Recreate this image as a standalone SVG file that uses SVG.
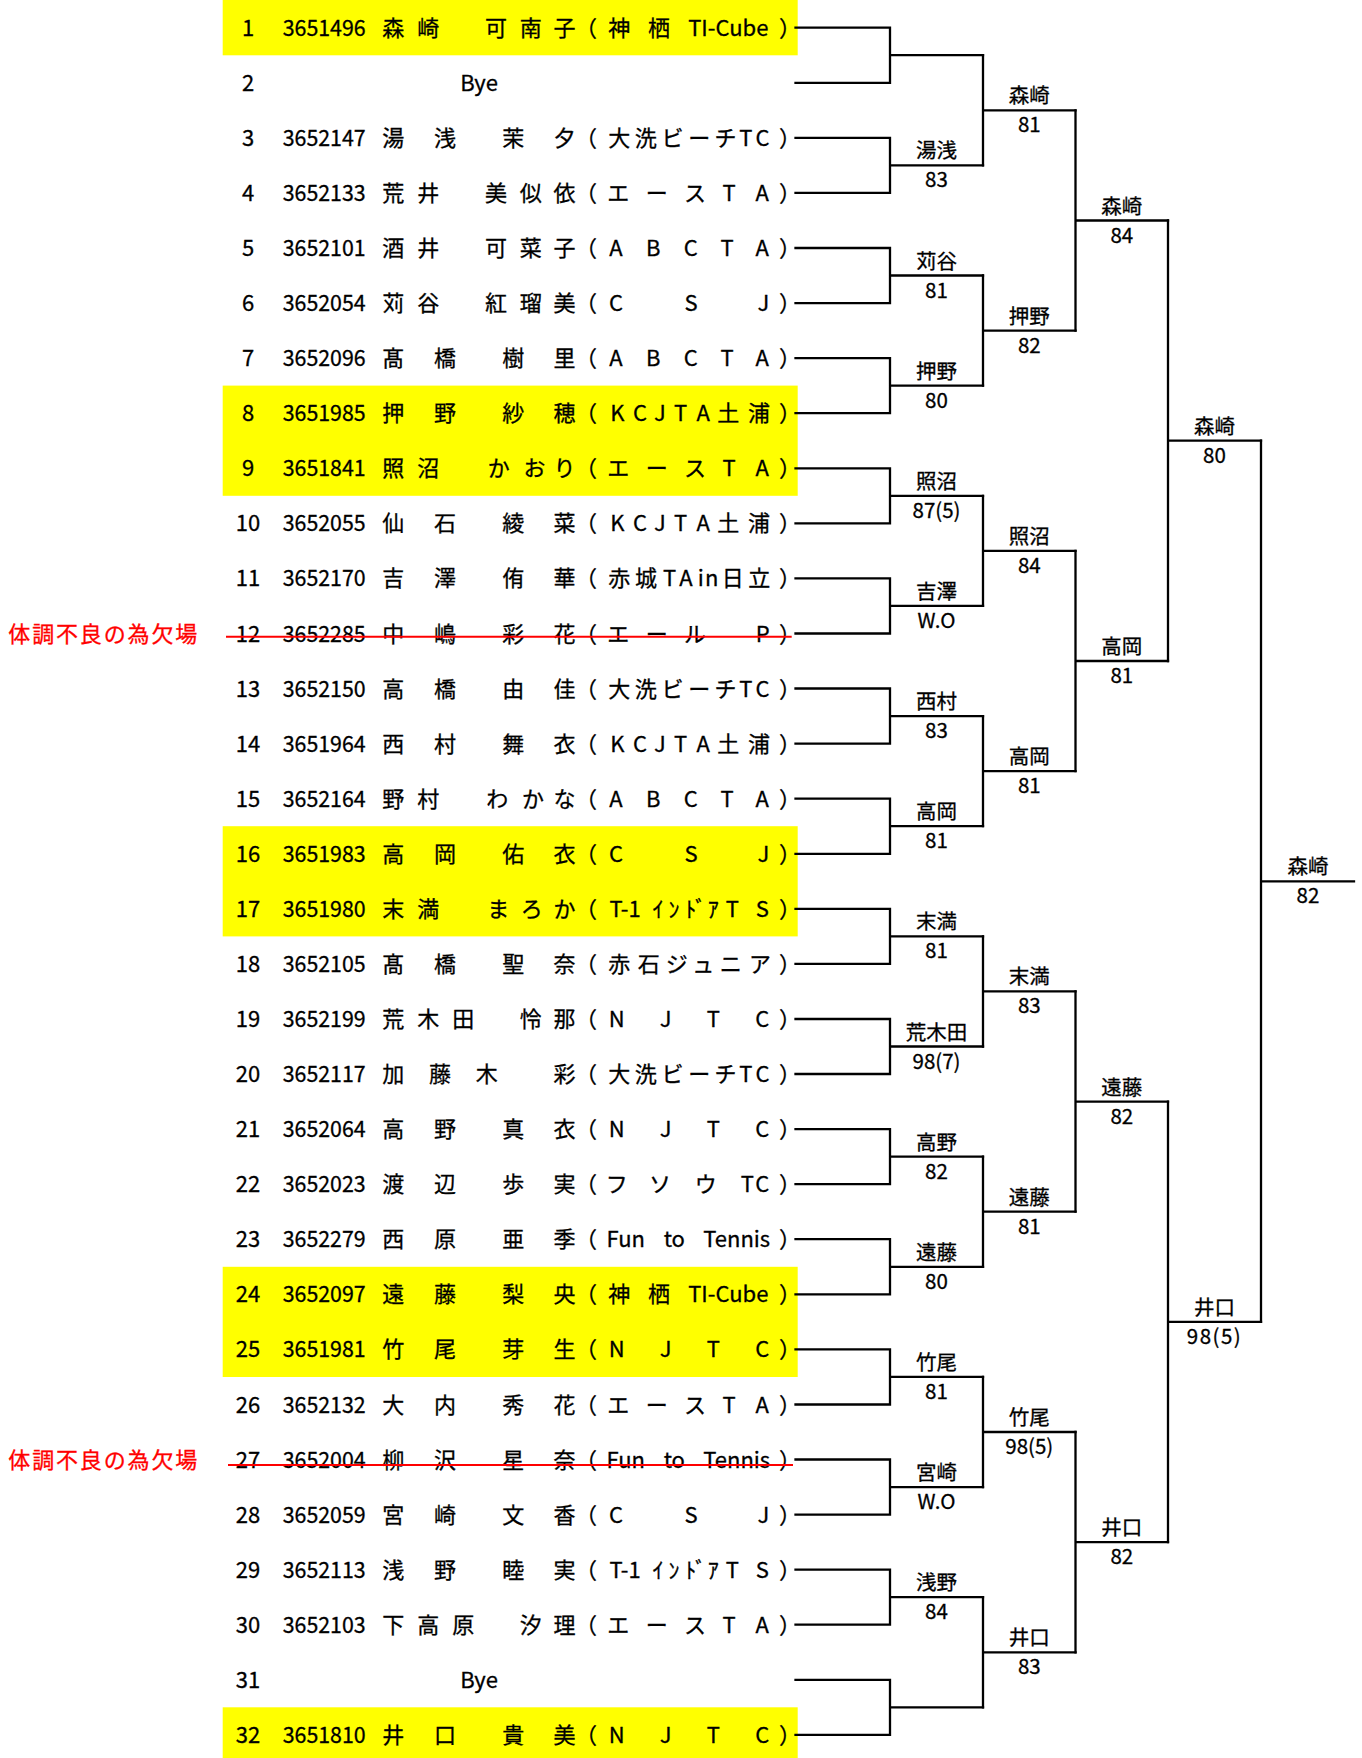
<svg xmlns="http://www.w3.org/2000/svg" width="1362" height="1758" viewBox="0 0 1362 1758">
<style>
.t{font-family:"Noto Sans CJK JP","Noto Sans CJK SC",sans-serif;font-size:22px;fill:#000;stroke:#000;stroke-width:0.3;text-anchor:middle}
.l{font-family:"Noto Sans CJK JP","Noto Sans CJK SC",sans-serif;font-size:20.5px;fill:#000;stroke:#000;stroke-width:0.3;text-anchor:middle}
.r{fill:#f00;stroke:#f00}
.hl{fill:#ff0}
.ln{fill:none;stroke:#000;stroke-width:2.3;stroke-linecap:square}
.st{fill:none;stroke:#f00;stroke-width:2}
</style>
<rect width="1362" height="1758" fill="#fff"/>
<g id="highlights">
<rect class="hl" x="222.7" y="0" width="575" height="55.3"/>
<rect class="hl" x="222.7" y="385.6" width="575" height="110.2"/>
<rect class="hl" x="222.7" y="826.2" width="575" height="110.2"/>
<rect class="hl" x="222.7" y="1266.8" width="575" height="110.2"/>
<rect class="hl" x="222.7" y="1707.3" width="575" height="50.7"/>
</g>
<g id="connectors">
<path class="ln" d="M795.5 27.7H890V82.8H795.5M890 55.2H983M795.5 137.8H890V192.9H795.5M890 165.4H983M795.5 248H890V303.1H795.5M890 275.5H983M795.5 358.1H890V413.2H795.5M890 385.7H983M795.5 468.3H890V523.3H795.5M890 495.8H983M795.5 578.4H890V633.5H795.5M890 605.9H983M795.5 688.5H890V743.6H795.5M890 716.1H983M795.5 798.7H890V853.8H795.5M890 826.2H983M795.5 908.8H890V963.9H795.5M890 936.4H983M795.5 1019H890V1074H795.5M890 1046.5H983M795.5 1129.1H890V1184.2H795.5M890 1156.6H983M795.5 1239.2H890V1294.3H795.5M890 1266.8H983M795.5 1349.4H890V1404.5H795.5M890 1376.9H983M795.5 1459.5H890V1514.6H795.5M890 1487.1H983M795.5 1569.7H890V1624.7H795.5M890 1597.2H983M795.5 1679.8H890V1734.9H795.5M890 1707.3H983"/>
<path class="ln" d="M983 55.2V165.4M983 110.3H1075.5M983 275.5V385.7M983 330.6H1075.5M983 495.8V605.9M983 550.9H1075.5M983 716.1V826.2M983 771.1H1075.5M983 936.4V1046.5M983 991.4H1075.5M983 1156.6V1266.8M983 1211.7H1075.5M983 1376.9V1487.1M983 1432H1075.5M983 1597.2V1707.3M983 1652.3H1075.5"/>
<path class="ln" d="M1075.5 110.3V330.6M1075.5 220.5H1168M1075.5 550.9V771.1M1075.5 661H1168M1075.5 991.4V1211.7M1075.5 1101.6H1168M1075.5 1432V1652.3M1075.5 1542.1H1168"/>
<path class="ln" d="M1168 220.5V661M1168 440.7H1261M1168 1101.6V1542.1M1168 1321.8H1261"/>
<path class="ln" d="M1261 440.7V1321.8M1261 881.3H1354"/>
</g>
<g id="p1"><text class="t" x="248" y="35.7">1</text><text class="t" x="324.2" y="35.7" textLength="83" lengthAdjust="spacingAndGlyphs">3651496</text><text class="t" x="393.3 428.3 496 530.7 564.5" y="35.7">森崎可南子</text><text class="t" y="35.7"><tspan x="586">（</tspan><tspan x="619.2 659">神栖</tspan><tspan x="728.3">TI-Cube</tspan><tspan x="790">）</tspan></text></g>
<g id="p2"><text class="t" x="248" y="90.8">2</text><text class="t" x="479" y="90.8">Bye</text></g>
<g id="p3"><text class="t" x="248" y="145.8">3</text><text class="t" x="324.2" y="145.8" textLength="83" lengthAdjust="spacingAndGlyphs">3652147</text><text class="t" x="393.3 445 513.3 564.5" y="145.8">湯浅茉夕</text><text class="t" y="145.8"><tspan x="586">（</tspan><tspan x="619.2 645.8 672.5 699.2 725.5 745.8 762.5">大洗ビーチTC</tspan><tspan x="790">）</tspan></text></g>
<g id="p4"><text class="t" x="248" y="200.9">4</text><text class="t" x="324.2" y="200.9" textLength="83" lengthAdjust="spacingAndGlyphs">3652133</text><text class="t" x="393.3 428.3 496 530.7 564.5" y="200.9">荒井美似依</text><text class="t" y="200.9"><tspan x="586">（</tspan><tspan x="618.3 656.7 695 729 762.3">エースTA</tspan><tspan x="790">）</tspan></text></g>
<g id="p5"><text class="t" x="248" y="256">5</text><text class="t" x="324.2" y="256" textLength="83" lengthAdjust="spacingAndGlyphs">3652101</text><text class="t" x="393.3 428.3 496 530.7 564.5" y="256">酒井可菜子</text><text class="t" y="256"><tspan x="586">（</tspan><tspan x="616 653.3 690.7 727 762.3">ABCTA</tspan><tspan x="790">）</tspan></text></g>
<g id="p6"><text class="t" x="248" y="311.1">6</text><text class="t" x="324.2" y="311.1" textLength="83" lengthAdjust="spacingAndGlyphs">3652054</text><text class="t" x="393.3 428.3 496 530.7 564.5" y="311.1">苅谷紅瑠美</text><text class="t" y="311.1"><tspan x="586">（</tspan><tspan x="616 691 763.3">CSJ</tspan><tspan x="790">）</tspan></text></g>
<g id="p7"><text class="t" x="248" y="366.1">7</text><text class="t" x="324.2" y="366.1" textLength="83" lengthAdjust="spacingAndGlyphs">3652096</text><text class="t" x="393.3 445 513.3 564.5" y="366.1">髙橋樹里</text><text class="t" y="366.1"><tspan x="586">（</tspan><tspan x="616 653.3 690.7 727 762.3">ABCTA</tspan><tspan x="790">）</tspan></text></g>
<g id="p8"><text class="t" x="248" y="421.2">8</text><text class="t" x="324.2" y="421.2" textLength="83" lengthAdjust="spacingAndGlyphs">3651985</text><text class="t" x="393.3 445 513.3 564.5" y="421.2">押野紗穂</text><text class="t" y="421.2"><tspan x="586">（</tspan><tspan x="617.3 640 660 680.7 703.3 728.3 759">KCJTA土浦</tspan><tspan x="790">）</tspan></text></g>
<g id="p9"><text class="t" x="248" y="476.3">9</text><text class="t" x="324.2" y="476.3" textLength="83" lengthAdjust="spacingAndGlyphs">3651841</text><text class="t" x="393.3 428.3 498.7 534.5 564.5" y="476.3">照沼かおり</text><text class="t" y="476.3"><tspan x="586">（</tspan><tspan x="618.3 656.7 695 729 762.3">エースTA</tspan><tspan x="790">）</tspan></text></g>
<g id="p10"><text class="t" x="248" y="531.3">10</text><text class="t" x="324.2" y="531.3" textLength="83" lengthAdjust="spacingAndGlyphs">3652055</text><text class="t" x="393.3 445 513.3 564.5" y="531.3">仙石綾菜</text><text class="t" y="531.3"><tspan x="586">（</tspan><tspan x="617.3 640 660 680.7 703.3 728.3 759">KCJTA土浦</tspan><tspan x="790">）</tspan></text></g>
<g id="p11"><text class="t" x="248" y="586.4">11</text><text class="t" x="324.2" y="586.4" textLength="83" lengthAdjust="spacingAndGlyphs">3652170</text><text class="t" x="393.3 445 513.3 564.5" y="586.4">吉澤侑華</text><text class="t" y="586.4"><tspan x="586">（</tspan><tspan x="619.2 646 669.7 686 700.7 711.7 732.7 759.3">赤城TAin日立</tspan><tspan x="790">）</tspan></text></g>
<g id="p12"><text class="t r" x="102.8" y="642.3" textLength="189" lengthAdjust="spacing">体調不良の為欠場</text><text class="t" x="248" y="641.5">12</text><text class="t" x="324.2" y="641.5" textLength="83" lengthAdjust="spacingAndGlyphs">3652285</text><text class="t" x="393.3 445 513.3 564.5" y="641.5">中嶋彩花</text><text class="t" y="641.5"><tspan x="586">（</tspan><tspan x="618.3 656.7 695 762.7">エールP</tspan><tspan x="790">）</tspan></text><path class="st" d="M226 636.7H791.7"/></g>
<g id="p13"><text class="t" x="248" y="696.5">13</text><text class="t" x="324.2" y="696.5" textLength="83" lengthAdjust="spacingAndGlyphs">3652150</text><text class="t" x="393.3 445 513.3 564.5" y="696.5">高橋由佳</text><text class="t" y="696.5"><tspan x="586">（</tspan><tspan x="619.2 645.8 672.5 699.2 725.5 745.8 762.5">大洗ビーチTC</tspan><tspan x="790">）</tspan></text></g>
<g id="p14"><text class="t" x="248" y="751.6">14</text><text class="t" x="324.2" y="751.6" textLength="83" lengthAdjust="spacingAndGlyphs">3651964</text><text class="t" x="393.3 445 513.3 564.5" y="751.6">西村舞衣</text><text class="t" y="751.6"><tspan x="586">（</tspan><tspan x="617.3 640 660 680.7 703.3 728.3 759">KCJTA土浦</tspan><tspan x="790">）</tspan></text></g>
<g id="p15"><text class="t" x="248" y="806.7">15</text><text class="t" x="324.2" y="806.7" textLength="83" lengthAdjust="spacingAndGlyphs">3652164</text><text class="t" x="393.3 428.3 497.3 533 564.5" y="806.7">野村わかな</text><text class="t" y="806.7"><tspan x="586">（</tspan><tspan x="616 653.3 690.7 727 762.3">ABCTA</tspan><tspan x="790">）</tspan></text></g>
<g id="p16"><text class="t" x="248" y="861.8">16</text><text class="t" x="324.2" y="861.8" textLength="83" lengthAdjust="spacingAndGlyphs">3651983</text><text class="t" x="393.3 445 513.3 564.5" y="861.8">高岡佑衣</text><text class="t" y="861.8"><tspan x="586">（</tspan><tspan x="616 691 763.3">CSJ</tspan><tspan x="790">）</tspan></text></g>
<g id="p17"><text class="t" x="248" y="916.8">17</text><text class="t" x="324.2" y="916.8" textLength="83" lengthAdjust="spacingAndGlyphs">3651980</text><text class="t" x="393.3 428.3 498.3 531.7 564.5" y="916.8">末満まろか</text><text class="t" y="916.8"><tspan x="586">（</tspan><tspan x="625">T-1</tspan><tspan x="658 674 690.7 700.7 713.3 732.3 762.3">ｲﾝﾄﾞｱTS</tspan><tspan x="790">）</tspan></text></g>
<g id="p18"><text class="t" x="248" y="971.9">18</text><text class="t" x="324.2" y="971.9" textLength="83" lengthAdjust="spacingAndGlyphs">3652105</text><text class="t" x="393.3 445 513.3 564.5" y="971.9">髙橋聖奈</text><text class="t" y="971.9"><tspan x="586">（</tspan><tspan x="619.2 648.7 676.7 703.3 730.7 760">赤石ジュニア</tspan><tspan x="790">）</tspan></text></g>
<g id="p19"><text class="t" x="248" y="1027">19</text><text class="t" x="324.2" y="1027" textLength="83" lengthAdjust="spacingAndGlyphs">3652199</text><text class="t" x="393.3 428.3 463.3 530.7 564.5" y="1027">荒木田怜那</text><text class="t" y="1027"><tspan x="586">（</tspan><tspan x="616.7 665.7 713.3 762.3">NJTC</tspan><tspan x="790">）</tspan></text></g>
<g id="p20"><text class="t" x="248" y="1082">20</text><text class="t" x="324.2" y="1082" textLength="83" lengthAdjust="spacingAndGlyphs">3652117</text><text class="t" x="393.3 440 486.7 564.5" y="1082">加藤木彩</text><text class="t" y="1082"><tspan x="586">（</tspan><tspan x="619.2 645.8 672.5 699.2 725.5 745.8 762.5">大洗ビーチTC</tspan><tspan x="790">）</tspan></text></g>
<g id="p21"><text class="t" x="248" y="1137.1">21</text><text class="t" x="324.2" y="1137.1" textLength="83" lengthAdjust="spacingAndGlyphs">3652064</text><text class="t" x="393.3 445 513.3 564.5" y="1137.1">高野真衣</text><text class="t" y="1137.1"><tspan x="586">（</tspan><tspan x="616.7 665.7 713.3 762.3">NJTC</tspan><tspan x="790">）</tspan></text></g>
<g id="p22"><text class="t" x="248" y="1192.2">22</text><text class="t" x="324.2" y="1192.2" textLength="83" lengthAdjust="spacingAndGlyphs">3652023</text><text class="t" x="393.3 445 513.3 564.5" y="1192.2">渡辺歩実</text><text class="t" y="1192.2"><tspan x="586">（</tspan><tspan x="616.7 660 705.7 747.3 762.3">フソウTC</tspan><tspan x="790">）</tspan></text></g>
<g id="p23"><text class="t" x="248" y="1247.2">23</text><text class="t" x="324.2" y="1247.2" textLength="83" lengthAdjust="spacingAndGlyphs">3652279</text><text class="t" x="393.3 445 513.3 564.5" y="1247.2">西原亜季</text><text class="t" y="1247.2"><tspan x="586">（</tspan><tspan x="625.7">Fun</tspan><tspan x="674.3">to</tspan><tspan x="736.7">Tennis</tspan><tspan x="790">）</tspan></text></g>
<g id="p24"><text class="t" x="248" y="1302.3">24</text><text class="t" x="324.2" y="1302.3" textLength="83" lengthAdjust="spacingAndGlyphs">3652097</text><text class="t" x="393.3 445 513.3 564.5" y="1302.3">遠藤梨央</text><text class="t" y="1302.3"><tspan x="586">（</tspan><tspan x="619.2 659">神栖</tspan><tspan x="728.3">TI-Cube</tspan><tspan x="790">）</tspan></text></g>
<g id="p25"><text class="t" x="248" y="1357.4">25</text><text class="t" x="324.2" y="1357.4" textLength="83" lengthAdjust="spacingAndGlyphs">3651981</text><text class="t" x="393.3 445 513.3 564.5" y="1357.4">竹尾芽生</text><text class="t" y="1357.4"><tspan x="586">（</tspan><tspan x="616.7 665.7 713.3 762.3">NJTC</tspan><tspan x="790">）</tspan></text></g>
<g id="p26"><text class="t" x="248" y="1412.5">26</text><text class="t" x="324.2" y="1412.5" textLength="83" lengthAdjust="spacingAndGlyphs">3652132</text><text class="t" x="393.3 445 513.3 564.5" y="1412.5">大内秀花</text><text class="t" y="1412.5"><tspan x="586">（</tspan><tspan x="618.3 656.7 695 729 762.3">エースTA</tspan><tspan x="790">）</tspan></text></g>
<g id="p27"><text class="t r" x="102.8" y="1468.4" textLength="189" lengthAdjust="spacing">体調不良の為欠場</text><text class="t" x="248" y="1467.5">27</text><text class="t" x="324.2" y="1467.5" textLength="83" lengthAdjust="spacingAndGlyphs">3652004</text><text class="t" x="393.3 445 513.3 564.5" y="1467.5">柳沢星奈</text><text class="t" y="1467.5"><tspan x="586">（</tspan><tspan x="625.7">Fun</tspan><tspan x="674.3">to</tspan><tspan x="736.7">Tennis</tspan><tspan x="790">）</tspan></text><path class="st" d="M228 1465H793"/></g>
<g id="p28"><text class="t" x="248" y="1522.6">28</text><text class="t" x="324.2" y="1522.6" textLength="83" lengthAdjust="spacingAndGlyphs">3652059</text><text class="t" x="393.3 445 513.3 564.5" y="1522.6">宮崎文香</text><text class="t" y="1522.6"><tspan x="586">（</tspan><tspan x="616 691 763.3">CSJ</tspan><tspan x="790">）</tspan></text></g>
<g id="p29"><text class="t" x="248" y="1577.7">29</text><text class="t" x="324.2" y="1577.7" textLength="83" lengthAdjust="spacingAndGlyphs">3652113</text><text class="t" x="393.3 445 513.3 564.5" y="1577.7">浅野睦実</text><text class="t" y="1577.7"><tspan x="586">（</tspan><tspan x="625">T-1</tspan><tspan x="658 674 690.7 700.7 713.3 732.3 762.3">ｲﾝﾄﾞｱTS</tspan><tspan x="790">）</tspan></text></g>
<g id="p30"><text class="t" x="248" y="1632.7">30</text><text class="t" x="324.2" y="1632.7" textLength="83" lengthAdjust="spacingAndGlyphs">3652103</text><text class="t" x="393.3 428.3 463.3 530.7 564.5" y="1632.7">下高原汐理</text><text class="t" y="1632.7"><tspan x="586">（</tspan><tspan x="618.3 656.7 695 729 762.3">エースTA</tspan><tspan x="790">）</tspan></text></g>
<g id="p31"><text class="t" x="248" y="1687.8">31</text><text class="t" x="479" y="1687.8">Bye</text></g>
<g id="p32"><text class="t" x="248" y="1742.9">32</text><text class="t" x="324.2" y="1742.9" textLength="83" lengthAdjust="spacingAndGlyphs">3651810</text><text class="t" x="393.3 445 513.3 564.5" y="1742.9">井口貴美</text><text class="t" y="1742.9"><tspan x="586">（</tspan><tspan x="616.7 665.7 713.3 762.3">NJTC</tspan><tspan x="790">）</tspan></text></g>
<g id="r1">
<g id="r1m2"><text class="l" x="936.5" y="158.4">湯浅</text><text class="l" x="936.5" y="187.4">83</text></g>
<g id="r1m3"><text class="l" x="936.5" y="268.5">苅谷</text><text class="l" x="936.5" y="297.5">81</text></g>
<g id="r1m4"><text class="l" x="936.5" y="378.7">押野</text><text class="l" x="936.5" y="407.7">80</text></g>
<g id="r1m5"><text class="l" x="936.5" y="488.8">照沼</text><text class="l" x="936.5" y="517.8">87(5)</text></g>
<g id="r1m6"><text class="l" x="936.5" y="598.9">吉澤</text><text class="l" x="936.5" y="627.9">W.O</text></g>
<g id="r1m7"><text class="l" x="936.5" y="709.1">西村</text><text class="l" x="936.5" y="738.1">83</text></g>
<g id="r1m8"><text class="l" x="936.5" y="819.2">高岡</text><text class="l" x="936.5" y="848.2">81</text></g>
<g id="r1m9"><text class="l" x="936.5" y="929.4">末満</text><text class="l" x="936.5" y="958.4">81</text></g>
<g id="r1m10"><text class="l" x="936.5" y="1039.5">荒木田</text><text class="l" x="936.5" y="1068.5">98(7)</text></g>
<g id="r1m11"><text class="l" x="936.5" y="1149.6">高野</text><text class="l" x="936.5" y="1178.6">82</text></g>
<g id="r1m12"><text class="l" x="936.5" y="1259.8">遠藤</text><text class="l" x="936.5" y="1288.8">80</text></g>
<g id="r1m13"><text class="l" x="936.5" y="1369.9">竹尾</text><text class="l" x="936.5" y="1398.9">81</text></g>
<g id="r1m14"><text class="l" x="936.5" y="1480.1">宮崎</text><text class="l" x="936.5" y="1509.1">W.O</text></g>
<g id="r1m15"><text class="l" x="936.5" y="1590.2">浅野</text><text class="l" x="936.5" y="1619.2">84</text></g>
</g>
<g id="r2">
<g id="r2m1"><text class="l" x="1029.3" y="103.3">森崎</text><text class="l" x="1029.3" y="132.3">81</text></g>
<g id="r2m2"><text class="l" x="1029.3" y="323.6">押野</text><text class="l" x="1029.3" y="352.6">82</text></g>
<g id="r2m3"><text class="l" x="1029.3" y="543.9">照沼</text><text class="l" x="1029.3" y="572.9">84</text></g>
<g id="r2m4"><text class="l" x="1029.3" y="764.1">高岡</text><text class="l" x="1029.3" y="793.1">81</text></g>
<g id="r2m5"><text class="l" x="1029.3" y="984.4">末満</text><text class="l" x="1029.3" y="1013.4">83</text></g>
<g id="r2m6"><text class="l" x="1029.3" y="1204.7">遠藤</text><text class="l" x="1029.3" y="1233.7">81</text></g>
<g id="r2m7"><text class="l" x="1029.3" y="1425">竹尾</text><text class="l" x="1029.3" y="1454">98(5)</text></g>
<g id="r2m8"><text class="l" x="1029.3" y="1645.3">井口</text><text class="l" x="1029.3" y="1674.3">83</text></g>
</g>
<g id="r3">
<g id="r3m1"><text class="l" x="1121.8" y="213.5">森崎</text><text class="l" x="1121.8" y="242.5">84</text></g>
<g id="r3m2"><text class="l" x="1121.8" y="654">高岡</text><text class="l" x="1121.8" y="683">81</text></g>
<g id="r3m3"><text class="l" x="1121.8" y="1094.6">遠藤</text><text class="l" x="1121.8" y="1123.6">82</text></g>
<g id="r3m4"><text class="l" x="1121.8" y="1535.1">井口</text><text class="l" x="1121.8" y="1564.1">82</text></g>
</g>
<g id="r4">
<g id="r4m1"><text class="l" x="1214.5" y="433.7">森崎</text><text class="l" x="1214.5" y="462.7">80</text></g>
<g id="r4m2"><text class="l" x="1214.5" y="1314.8">井口</text><text class="l" x="1214.5" y="1343.8" letter-spacing="1.5">98(5)</text></g>
</g>
<g id="final"><text class="l" x="1308" y="874.3">森崎</text><text class="l" x="1308" y="903.3">82</text></g>
</svg>
